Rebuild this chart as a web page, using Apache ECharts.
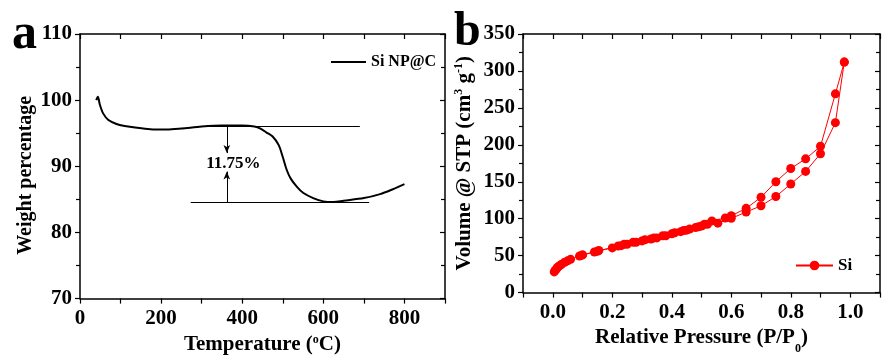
<!DOCTYPE html>
<html>
<head>
<meta charset="utf-8">
<script src="https://cdn.jsdelivr.net/npm/echarts@6/dist/echarts.min.js"></script>
<style>
	html, body { margin: 0; padding: 0; background: #fff; }
	#chart { width: 883px; height: 360px; }
</style>
</head>
<body>
<div id="chart"></div>
<script>
	'use strict';

	/* panel a: TGA */
	var tgaTemp = [40, 44, 49, 57, 70, 90, 110, 132, 173, 214, 250, 300, 350, 400, 430, 445, 460, 475, 490, 500, 510, 520, 535, 550, 575, 600, 625, 650, 700, 740, 770, 800];
	var tgaWeight = [100.0, 100.5, 99.3, 98.0, 97.0, 96.4, 96.1, 95.9, 95.6, 95.55, 95.7, 96.0, 96.15, 96.15, 96.0, 95.7, 95.1, 94.5, 93.2, 91.4, 89.4, 88.1, 86.9, 86.0, 85.2, 84.7, 84.6, 84.8, 85.2, 85.8, 86.5, 87.3];
	var lossTop = 96.1, lossBottom = 84.6, lossArrowX = 362;
	var lossTopRange = [290, 690], lossBottomRange = [273, 713];
	var lossArrowEnds = [92.0, 89.2];
	var lossText = '11.75%';
	var lossTextPos = [378, 90.4];

	/* panel b: N2 isotherm */
	var adsP = [0.005, 0.008, 0.012, 0.016, 0.02, 0.025, 0.03, 0.04, 0.05, 0.06, 0.09, 0.10, 0.14, 0.155, 0.20, 0.23, 0.25, 0.28, 0.30, 0.33, 0.35, 0.38, 0.40, 0.43, 0.45, 0.48, 0.50, 0.52, 0.555, 0.60, 0.65, 0.70, 0.75, 0.80, 0.85, 0.90, 0.95, 0.98];
	var adsV = [28, 30, 32, 34, 35.5, 37, 38.5, 41, 43, 45, 49.5, 51, 55, 57, 60.5, 63.5, 65.5, 68, 70, 72.5, 74, 77, 79.5, 82.5, 84.5, 88, 90, 92.5, 94, 100.5, 109, 117.5, 130, 147, 164, 188, 230, 312];
	var desP = [0.98, 0.95, 0.90, 0.85, 0.80, 0.75, 0.70, 0.65, 0.60, 0.58, 0.535, 0.51, 0.49, 0.46, 0.44, 0.41, 0.37, 0.34, 0.31, 0.27, 0.24, 0.22, 0.15, 0.10];
	var desV = [312, 269, 198, 181, 168, 150, 129, 114, 104, 101, 97, 92.5, 89, 86, 84, 81, 77, 74, 71.5, 68, 65.5, 63, 56, 51];

	function pairs(xs, ys) {
		return xs.map(function(x, i) { return [x, ys[i]]; });
	}

	var font = 'Liberation Serif';
	var txt = { fontFamily: font, fontWeight: 'bold', color: '#000' };
	var axisLine = { show: true, onZero: false, lineStyle: { color: '#000', width: 1.5 } };
	var tickStyle = { color: '#000', width: 1.2 };

	function frameAxis(grid, pos, min, max, interval, extra) {
		var a = {
			gridIndex: grid, type: 'value', position: pos, min: min, max: max, interval: interval,
			axisLine: axisLine,
			axisTick: { show: true, inside: true, length: 5, lineStyle: tickStyle },
			axisLabel: { show: false },
			splitLine: { show: false }
		};
		return Object.assign(a, extra || {});
	}

	var option = {
		animation: false,
		backgroundColor: '#fff',
		grid: [
			{ left: 80, top: 34, width: 365, height: 271 },
			{ left: 523, top: 34, width: 364, height: 270 }
		],
		xAxis: [
			{
				gridIndex: 0, type: 'value', position: 'bottom', min: 0, max: 900, interval: 100,
				axisLine: axisLine,
				axisTick: { show: true, inside: false, length: 5, lineStyle: tickStyle },
				axisLabel: Object.assign({ fontSize: 21, margin: 9,
					formatter: function(v) { return (v % 200 === 0 && v < 900) ? String(v) : ''; } }, txt),
				splitLine: { show: false },
				name: '{n|Temperature (}{s|o}{n|C)}',
				nameLocation: 'middle', nameGap: 25,
				nameTextStyle: { rich: {
					n: Object.assign({ fontSize: 21, lineHeight: 22 }, txt),
					s: Object.assign({ fontSize: 12, lineHeight: 12, verticalAlign: 'top' }, txt)
				} }
			},
			frameAxis(0, 'top', 0, 900, 100),
			{
				gridIndex: 1, type: 'value', position: 'bottom', min: -0.1, max: 1.1, interval: 0.1,
				axisLine: axisLine,
				axisTick: { show: true, inside: false, length: 5, lineStyle: tickStyle },
				axisLabel: Object.assign({ fontSize: 21, margin: 9,
					formatter: function(v) {
						var k = Math.round(v * 10);
						return (k >= 0 && k <= 10 && k % 2 === 0) ? (k / 10).toFixed(1) : '';
					} }, txt),
				splitLine: { show: false },
				name: '{n|Relative Pressure (P/P}{s|0}{n|)}',
				nameLocation: 'middle', nameGap: 25,
				nameTextStyle: { rich: {
					n: Object.assign({ fontSize: 21, lineHeight: 22 }, txt),
					s: Object.assign({ fontSize: 12, lineHeight: 12, verticalAlign: 'bottom', padding: [0, 0, -6, 0] }, txt)
				} }
			},
			frameAxis(1, 'top', -0.1, 1.1, 0.1)
		],
		yAxis: [
			{
				gridIndex: 0, type: 'value', position: 'left', min: 70, max: 110, interval: 10,
				axisLine: axisLine,
				axisTick: { show: true, inside: false, length: 5, lineStyle: tickStyle },
				minorTick: { show: true, splitNumber: 2, length: 4, lineStyle: tickStyle },
				axisLabel: Object.assign({ fontSize: 21, margin: 8 }, txt),
				splitLine: { show: false },
				name: 'Weight percentage',
				nameLocation: 'middle', nameGap: 44, nameRotate: 90,
				nameTextStyle: Object.assign({ fontSize: 20, padding: [0, 18, 0, 0] }, txt)
			},
			frameAxis(0, 'right', 70, 110, 10, {
				minorTick: { show: true, splitNumber: 2, length: 4, lineStyle: tickStyle }
			}),
			{
				gridIndex: 1, type: 'value', position: 'left', min: 0, max: 350, interval: 50,
				axisLine: axisLine,
				axisTick: { show: true, inside: false, length: 5, lineStyle: tickStyle },
				minorTick: { show: true, splitNumber: 2, length: 4, lineStyle: tickStyle },
				axisLabel: Object.assign({ fontSize: 21, margin: 8 }, txt),
				splitLine: { show: false },
				name: '{n|Volume @ STP (cm}{s|3}{n| g}{s|-1}{n|)}',
				nameLocation: 'middle', nameGap: 46, nameRotate: 90,
				nameTextStyle: { rich: {
					n: Object.assign({ fontSize: 21, lineHeight: 24 }, txt),
					s: Object.assign({ fontSize: 12, lineHeight: 12, verticalAlign: 'top' }, txt)
				} }
			},
			frameAxis(1, 'right', 0, 350, 50, {
				minorTick: { show: true, splitNumber: 2, length: 4, lineStyle: tickStyle }
			})
		],
		legend: [
			{
				data: [{ name: 'Si NP@C', icon: 'rect' }], left: 326, top: 49, itemWidth: 35, itemHeight: 2, itemGap: 0,
				textStyle: Object.assign({ fontSize: 16 }, txt)
			},
			{
				data: ['Si'], left: 790, top: 252, itemWidth: 37, itemHeight: 12, itemGap: 0,
				textStyle: Object.assign({ fontSize: 17 }, txt)
			}
		],
		graphic: [
			{ type: 'text', left: 12, top: 10, style: { text: 'a', font: 'bold 50px "Liberation Serif"', fill: '#000' } },
			{ type: 'text', left: 454, top: 9, style: { text: 'b', font: 'bold 48px "Liberation Serif"', fill: '#000' } }
		],
		series: [
			{
				name: 'Si NP@C', type: 'line', xAxisIndex: 0, yAxisIndex: 0,
				data: pairs(tgaTemp, tgaWeight), smooth: 0.3, symbol: 'none',
				lineStyle: { color: '#000', width: 2 }, itemStyle: { color: '#000' },
				markLine: {
					silent: true, symbol: 'none', animation: false,
					label: { show: false },
					lineStyle: { color: '#000', width: 1, type: 'solid' },
					data: [
						[{ coord: [lossTopRange[0], lossTop] }, { coord: [lossTopRange[1], lossTop] }],
						[{ coord: [lossBottomRange[0], lossBottom] }, { coord: [lossBottomRange[1], lossBottom] }],
						[{ coord: [lossArrowX, lossTop] }, { coord: [lossArrowX, lossArrowEnds[0]], symbol: 'arrow', symbolSize: [5, 8] }],
						[{ coord: [lossArrowX, lossBottom] }, { coord: [lossArrowX, lossArrowEnds[1]], symbol: 'arrow', symbolSize: [5, 8] }]
					]
				},
				markPoint: {
					silent: true, symbol: 'circle', symbolSize: 0,
					label: Object.assign({ show: true, position: 'inside', fontSize: 17, formatter: lossText }, txt),
					data: [{ coord: lossTextPos }]
				}
			},
			{
				name: 'Si', type: 'line', xAxisIndex: 2, yAxisIndex: 2,
				data: pairs(adsP, adsV), symbol: 'circle', symbolSize: 9,
				lineStyle: { color: '#ff0000', width: 1 }, itemStyle: { color: '#ff0000' }
			},
			{
				name: 'Si', type: 'line', xAxisIndex: 2, yAxisIndex: 2,
				data: pairs(desP, desV), symbol: 'circle', symbolSize: 9,
				lineStyle: { color: '#ff0000', width: 1 }, itemStyle: { color: '#ff0000' }
			}
		]
	};

	var chart = echarts.init(document.getElementById('chart'));
	chart.setOption(option);
</script>
</body>
</html>
